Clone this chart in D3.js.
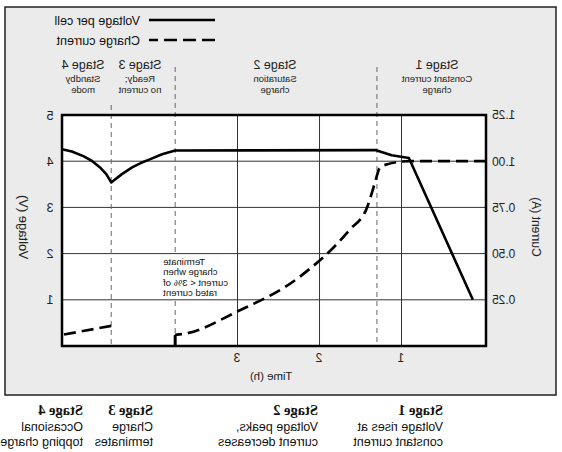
<!DOCTYPE html>
<html><head><meta charset="utf-8">
<script src="https://cdn.jsdelivr.net/npm/d3@7"></script>
<style>body{margin:0;background:#fff}svg{display:block}text{font-family:"Liberation Sans",Arial,sans-serif}</style>
</head><body>
<script>
// ---- data (time in hours, voltage in V, current in A) ----
const voltageTime  = [0.13, 0.91, 1.12, 1.32, 3.76, 3.92, 4.07, 4.18, 4.28, 4.41, 4.54, 4.60, 4.68, 4.77, 4.88, 5.02, 5.14];
const voltageValue = [1.00, 4.07, 4.13, 4.24, 4.23, 4.15, 4.04, 3.96, 3.87, 3.72, 3.54, 3.72, 3.87, 4.00, 4.11, 4.21, 4.26];
const currentTime  = [-0.03, 0.91, 1.20, 1.27, 1.32, 1.42, 1.63, 2.24, 3.01, 3.66, 3.76];
const currentValue = [1.00, 1.00, 0.98, 0.96, 0.89, 0.75, 0.63, 0.375, 0.185, 0.065, 0.06];
const topupTime    = [4.54, 5.14];
const topupValue   = [0.109, 0.06];
const jumpTime     = [3.76, 3.76];
const jumpValue    = [0, 0.06];
const timeTicks    = [1, 2, 3];
const voltTicks    = [1, 2, 3, 4, 5];
const currTicks    = [0.25, 0.50, 0.75, 1.00, 1.25];
const stageBounds  = [1.30, 3.76, 4.54];
const stageTop     = [["Stage 1", "Constant current", "charge"], ["Stage 2", "Saturation", "charge"], ["Stage 3", "Ready;", "no current"], ["Stage 4", "Standby", "mode"]];
const stageBottom  = [["Stage 1", "Voltage rises at", "constant current"], ["Stage 2", "Voltage peaks,", "current decreases"], ["Stage 3", "Charge", "terminates"], ["Stage 4", "Occasional", "topping charge"]];
const terminateNote = ["Terminate", "charge when", "current < 3% of", "rated current"];
const legendLabels = ["Voltage per cell", "Charge current"];

const W = 562, H = 452;
const svg = d3.select("body").append("svg").attr("width", W).attr("height", H);
svg.append("rect").attr("width", W).attr("height", H).attr("fill", "#fff");
// whole picture is mirrored horizontally
const g = svg.append("g").attr("transform", `translate(${W},0) scale(-1,1)`);

const x = d3.scaleLinear().domain([-0.03, 5.14]).range([76, 500]);
const yV = d3.scaleLinear().domain([0, 5]).range([346, 115]);
const yC = d3.scaleLinear().domain([0, 1.25]).range([346, 115]);

// frame
g.append("rect").attr("x", 6).attr("y", 7).attr("width", 551).attr("height", 388)
  .attr("fill", "#ebebeb").attr("stroke", "#222").attr("stroke-width", 1.5);

// legend
legendLabels.forEach((l, i) => {
  const yy = 20 + i * 20;
  g.append("line").attr("x1", 347).attr("x2", 413).attr("y1", yy).attr("y2", yy)
    .attr("stroke", "#000").attr("stroke-width", 2.6)
    .attr("stroke-dasharray", i ? "13,6" : null);
  g.append("text").attr("x", 422).attr("y", yy + 4.5).attr("font-size", 12.5).attr("fill", "#111").text(l);
});

// stage labels top
const topCenters = [125, 287, 422, 479];
stageTop.forEach((s, i) => {
  const t = g.append("text").attr("text-anchor", "middle").attr("fill", "#222");
  t.append("tspan").attr("x", topCenters[i]).attr("y", 69).attr("font-size", 12.5).text(s[0]);
  t.append("tspan").attr("x", topCenters[i]).attr("y", 82).attr("font-size", 9.5).text(s[1]);
  t.append("tspan").attr("x", topCenters[i]).attr("y", 93).attr("font-size", 9.5).text(s[2]);
});

// plot area
g.append("rect").attr("x", 76).attr("y", 115).attr("width", 424).attr("height", 231).attr("fill", "#fff");

// grid
g.selectAll(".hg").data(voltTicks.filter(d => d < 5)).join("line")
  .attr("x1", 76).attr("x2", 500).attr("y1", d => yV(d)).attr("y2", d => yV(d))
  .attr("stroke", "#333").attr("stroke-width", 1);
g.selectAll(".vg").data(timeTicks).join("line")
  .attr("x1", d => x(d)).attr("x2", d => x(d)).attr("y1", 115).attr("y2", 346)
  .attr("stroke", "#333").attr("stroke-width", 1);

// stage boundaries
g.selectAll(".sb").data(stageBounds).join("line")
  .attr("x1", d => x(d)).attr("x2", d => x(d))
  .attr("y1", (d, i) => i === 2 ? 105 : 67).attr("y2", 346)
  .attr("stroke", "#666").attr("stroke-width", 1).attr("stroke-dasharray", "5,4");

// terminate note with white background
const noteX = x(stageBounds[1]) + 12;
g.append("rect").attr("x", noteX - 72).attr("y", 256).attr("width", 73).attr("height", 43).attr("fill", "#fff");
const nt = g.append("text").attr("text-anchor", "end").attr("font-size", 9.5).attr("fill", "#111");
terminateNote.forEach((l, i) => nt.append("tspan").attr("x", noteX).attr("y", 265 + i * 10.4).text(l));

// curves
const vPts = voltageTime.map((t, i) => [t, voltageValue[i]]);
const cPts = currentTime.map((t, i) => [t, currentValue[i]]);
const tPts = topupTime.map((t, i) => [t, topupValue[i]]);
const jPts = jumpTime.map((t, i) => [t, jumpValue[i]]);
const lineV = d3.line().x(d => x(d[0])).y(d => yV(d[1]));
const lineC = d3.line().x(d => x(d[0])).y(d => yC(d[1])).curve(d3.curveMonotoneX);
const lineJ = d3.line().x(d => x(d[0])).y(d => yC(d[1]));

g.append("path").attr("d", lineV(vPts)).attr("fill", "none").attr("stroke", "#000")
  .attr("stroke-width", 2.6).attr("stroke-linejoin", "round");
g.append("path").attr("d", lineC(cPts)).attr("fill", "none").attr("stroke", "#000")
  .attr("stroke-width", 2.7).attr("stroke-dasharray", "12,6");
g.append("path").attr("d", lineJ(tPts)).attr("fill", "none").attr("stroke", "#000")
  .attr("stroke-width", 2.7).attr("stroke-dasharray", "12,6");
g.append("path").attr("d", lineJ(jPts)).attr("fill", "none").attr("stroke", "#000").attr("stroke-width", 3);

// plot border
g.append("rect").attr("x", 76).attr("y", 115).attr("width", 424).attr("height", 231)
  .attr("fill", "none").attr("stroke", "#000").attr("stroke-width", 2.5);

// axes
const axV = g.append("g").attr("transform", "translate(500,0)")
  .call(d3.axisRight(yV).tickValues(voltTicks).tickFormat(d3.format("d")).tickSize(0).tickPadding(12));
axV.select(".domain").remove();
axV.selectAll("text").attr("text-anchor", "middle").attr("font-size", 12.5).attr("fill", "#222");

const axC = g.append("g").attr("transform", "translate(76,0)")
  .call(d3.axisLeft(yC).tickValues(currTicks).tickFormat(d3.format(".2f")).tickSize(0).tickPadding(6));
axC.select(".domain").remove();
axC.selectAll("text").attr("font-size", 12).attr("fill", "#222");

const axT = g.append("g").attr("transform", "translate(0,346)")
  .call(d3.axisBottom(x).tickValues(timeTicks).tickFormat(d3.format("d")).tickSize(0).tickPadding(7));
axT.select(".domain").remove();
axT.selectAll("text").attr("font-size", 12).attr("fill", "#222");

// axis titles
g.append("text").attr("transform", "translate(543,227) rotate(-90)").attr("text-anchor", "middle")
  .attr("font-size", 13).attr("fill", "#222").text("Voltage (V)");
g.append("text").attr("transform", "translate(30,227) rotate(-90)").attr("text-anchor", "middle")
  .attr("font-size", 12).attr("fill", "#222").text("Current (A)");
g.append("text").attr("x", 291).attr("y", 380).attr("text-anchor", "middle")
  .attr("font-size", 11.5).attr("fill", "#222").text("Time (h)");

// bottom stage descriptions
const bottomStarts = [119, 244, 409, 479];
stageBottom.forEach((s, i) => {
  const t = g.append("text").attr("fill", "#111");
  t.append("tspan").attr("x", bottomStarts[i]).attr("y", 415).attr("font-size", 14.5)
    .attr("font-weight", "bold").attr("font-family", "'Liberation Serif',serif").text(s[0]);
  t.append("tspan").attr("x", bottomStarts[i]).attr("y", 431).attr("font-size", 12.5).text(s[1]);
  t.append("tspan").attr("x", bottomStarts[i]).attr("y", 446).attr("font-size", 12.5).text(s[2]);
});
</script>
</body></html>
